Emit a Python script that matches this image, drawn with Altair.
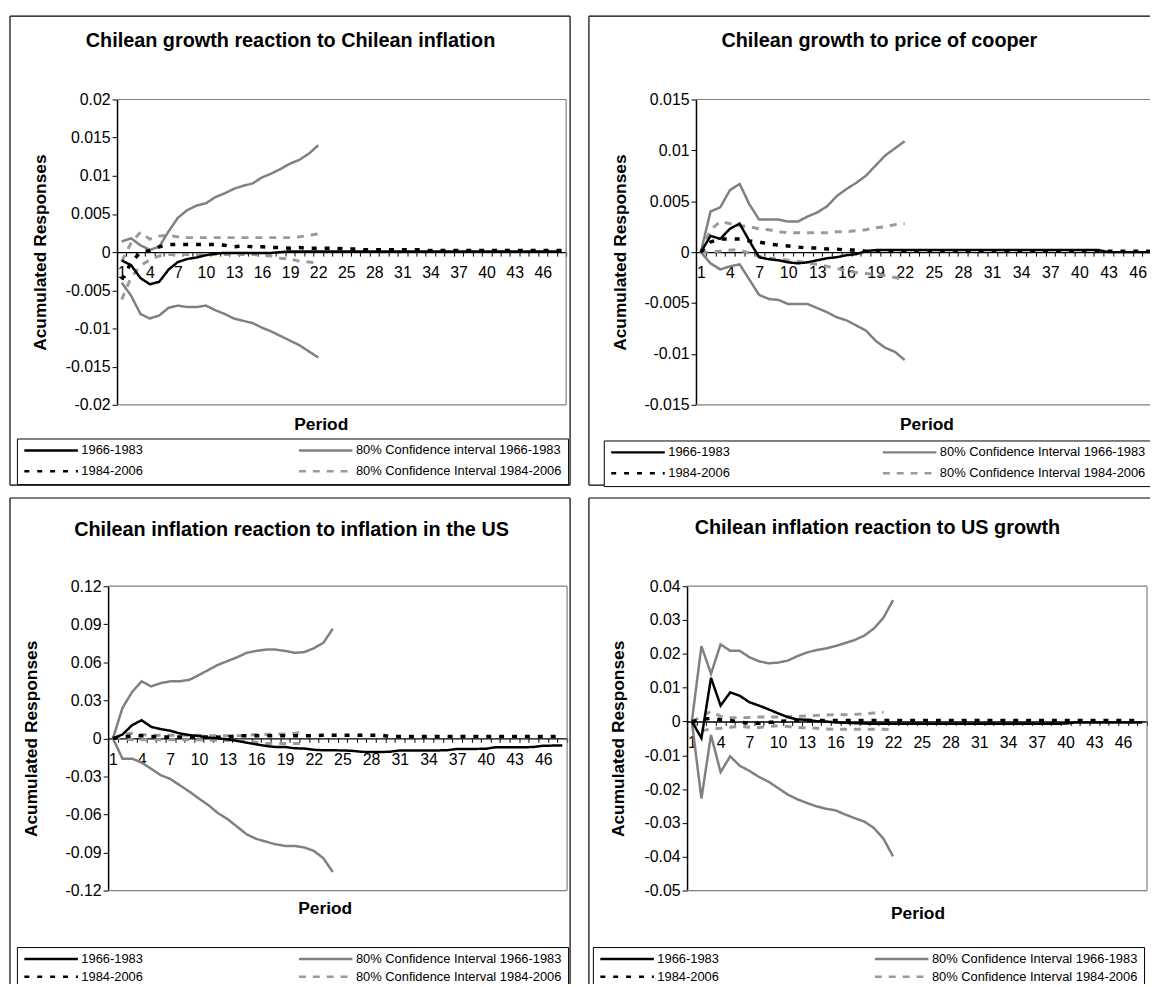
import altair as alt
import pandas as pd

FONT = "Liberation Sans"

S_A = "1966-1983"
S_C = "1984-2006"
S_B_P1 = "80% Confidence interval 1966-1983"
S_B = "80% Confidence Interval 1966-1983"
S_D = "80% Confidence Interval 1984-2006"

TITLES = [
    "Chilean growth reaction to Chilean inflation",
    "Chilean growth to price of cooper",
    "Chilean inflation reaction to inflation in the US",
    "Chilean inflation reaction to US growth",
]

# ---------------- Panel 1: Chilean growth reaction to Chilean inflation
A1 = [-0.0011, -0.0017, -0.0034, -0.0042, -0.0039, -0.0023, -0.0013, -0.0009, -0.0007, -0.0004, -0.0002, -0.0001,
      -0.0001, -0.0001, -0.0001, -0.0001, -0.0001, 0.0, 0.0001, 0.0001, 0.0001, 0.0001, 0.0001, 0.0001,
      0.0001, 0.0001, 0.0001, 0.0001, 0.0001, 0.0001, 0.0001, 0.0001, 0.0001, 0.0001, 0.0001, 0.0001,
      0.0001, 0.0001, 0.0001, 0.0001, 0.0001, 0.0001, 0.0001, 0.0001, 0.0001, 0.0001, 0.0001, 0.0001]
C1 = [-0.0036, -0.0014, 0.0, 0.0002, 0.0007, 0.001, 0.001, 0.001, 0.001, 0.001, 0.001, 0.0009,
      0.0007, 0.0008, 0.0007, 0.0007, 0.0006, 0.0006, 0.0005, 0.0006, 0.0005, 0.0005, 0.0005, 0.0005,
      0.0004, 0.0004, 0.0003, 0.0003, 0.0003, 0.0003, 0.0003, 0.0003, 0.0003, 0.0002, 0.0002, 0.0002,
      0.0002, 0.0002, 0.0002, 0.0002, 0.0002, 0.0002, 0.0002, 0.0002, 0.0002, 0.0002, 0.0002, 0.0002]
B1_UP = [0.0014, 0.0018, 0.0009, 0.0003, 0.0007, 0.0027, 0.0045, 0.0055, 0.0061, 0.0064, 0.0072, 0.0077,
         0.0083, 0.0087, 0.009, 0.0098, 0.0103, 0.0109, 0.0116, 0.0121, 0.0129, 0.014]
B1_LO = [-0.004, -0.0057, -0.0081, -0.0087, -0.0083, -0.0073, -0.007, -0.0072, -0.0072, -0.007, -0.0076, -0.0081,
         -0.0087, -0.009, -0.0093, -0.0099, -0.0104, -0.011, -0.0116, -0.0122, -0.013, -0.0138]
D1_UP = [-0.0012, 0.0012, 0.0026, 0.0017, 0.0021, 0.0022, 0.002, 0.0019, 0.0019, 0.0019, 0.0019, 0.0019,
         0.0019, 0.0019, 0.0019, 0.0019, 0.0019, 0.0019, 0.0019, 0.002, 0.0022, 0.0024]
D1_LO = [-0.0062, -0.0033, -0.0018, -0.001, -0.0005, -0.0003, -0.0003, -0.0003, -0.0003, -0.0003, -0.0003, -0.0003,
         -0.0003, -0.0003, -0.0003, -0.0004, -0.0005, -0.0008, -0.0009, -0.0012, -0.0013, -0.0014]

# ---------------- Panel 2: Chilean growth to price of cooper
A2 = [0.0, 0.0016, 0.0013, 0.0023, 0.0028, 0.0011, -0.0005, -0.0007, -0.0008, -0.001, -0.0011, -0.001,
      -0.0008, -0.0006, -0.0005, -0.0003, -0.0002, 0.0001, 0.0002, 0.0002, 0.0002, 0.0002, 0.0002, 0.0002,
      0.0002, 0.0002, 0.0002, 0.0002, 0.0002, 0.0002, 0.0002, 0.0002, 0.0002, 0.0002, 0.0002, 0.0002,
      0.0002, 0.0002, 0.0002, 0.0002, 0.0002, 0.0002, 0.0, 0.0, 0.0, 0.0, 0.0, 0.0]
C2 = [0.0, 0.001, 0.0013, 0.0013, 0.0013, 0.0011, 0.001, 0.0008, 0.0007, 0.0006, 0.0005, 0.0004,
      0.0004, 0.0003, 0.0003, 0.0002, 0.0002, 0.0001, 0.0001, 0.0001, 0.0001, 0.0001, 0.0001, 0.0001,
      0.0001, 0.0001, 0.0001, 0.0001, 0.0001, 0.0001, 0.0001, 0.0001, 0.0001, 0.0001, 0.0001, 0.0001,
      0.0001, 0.0001, 0.0001, 0.0001, 0.0001, 0.0001, 0.0001, 0.0001, 0.0001, 0.0001, 0.0001, 0.0001]
B2_UP = [0.0, 0.004, 0.0044, 0.0061, 0.0067, 0.0047, 0.0032, 0.0032, 0.0032, 0.003, 0.003, 0.0035,
         0.0039, 0.0045, 0.0055, 0.0062, 0.0068, 0.0075, 0.0085, 0.0095, 0.0102, 0.0109]
B2_LO = [0.0, -0.0011, -0.0017, -0.0014, -0.0012, -0.0027, -0.0042, -0.0046, -0.0047, -0.0051, -0.0051, -0.0051,
         -0.0055, -0.0059, -0.0064, -0.0067, -0.0072, -0.0077, -0.0087, -0.0094, -0.0098, -0.0106]
D2_UP = [0.0, 0.0022, 0.003, 0.0028, 0.0026, 0.0025, 0.0023, 0.0022, 0.002, 0.0019, 0.0019, 0.0019,
         0.0019, 0.0019, 0.002, 0.002, 0.0021, 0.0022, 0.0024, 0.0025, 0.0027, 0.0028]
D2_LO = [0.0, 0.0, 0.0001, 0.0002, 0.0002, -0.0001, -0.0004, -0.0006, -0.0007, -0.0008, -0.0009, -0.0011,
         -0.0012, -0.0014, -0.0016, -0.0018, -0.002, -0.0021, -0.0022, -0.0023, -0.0025, -0.0027]

# ---------------- Panel 3: Chilean inflation reaction to inflation in the US
A3 = [0.0, 0.003, 0.0104, 0.0143, 0.0091, 0.0073, 0.006, 0.0039, 0.0026, 0.0018, 0.0005, 0.0,
      -0.0008, -0.002, -0.0034, -0.0047, -0.006, -0.0068, -0.0068, -0.0078, -0.008, -0.009, -0.0094, -0.0094,
      -0.0095, -0.0098, -0.0106, -0.0108, -0.0108, -0.0105, -0.0095, -0.0095, -0.0095, -0.0095, -0.0095, -0.0093,
      -0.0083, -0.0083, -0.0083, -0.0082, -0.007, -0.007, -0.007, -0.007, -0.0068, -0.0058, -0.0057, -0.0057]
C3 = [0.0, 0.001, 0.002, 0.002, 0.0015, 0.001, 0.001, 0.001, 0.001, 0.001, 0.001, 0.001,
      0.0012, 0.002, 0.002, 0.002, 0.002, 0.002, 0.002, 0.002, 0.002, 0.002, 0.0025, 0.0025,
      0.0025, 0.0025, 0.0025, 0.0025, 0.0025, 0.0015, 0.0015, 0.0015, 0.0015, 0.0015, 0.0015, 0.0015,
      0.0015, 0.0015, 0.0015, 0.0015, 0.0015, 0.0015, 0.0015, 0.0015, 0.0015, 0.0015, 0.0015, 0.0015]
B3_UP = [0.0, 0.024, 0.0365, 0.045, 0.041, 0.0436, 0.045, 0.045, 0.0462, 0.05, 0.054, 0.058,
         0.061, 0.064, 0.0675, 0.069, 0.07, 0.07, 0.069, 0.0675, 0.068, 0.071, 0.0753, 0.0865]
B3_LO = [0.0, -0.016, -0.016, -0.019, -0.024, -0.029, -0.032, -0.037, -0.042, -0.0475, -0.0527, -0.059,
         -0.0637, -0.0697, -0.0757, -0.0793, -0.0814, -0.0835, -0.0848, -0.0848, -0.086, -0.0887, -0.0944, -0.1054]
D3_UP = [0.0, 0.003, 0.004, 0.003, 0.0025, 0.0025, 0.0025, 0.0025, 0.0025, 0.0025, 0.002, 0.002,
         0.002, 0.002, 0.0025, 0.003, 0.003, 0.0035, 0.0035, 0.004, 0.005]
D3_LO = [0.0, -0.0005, -0.001, -0.001, -0.001, -0.001, -0.001, -0.001, -0.001, -0.001, -0.0015, -0.0015,
         -0.0015, -0.0015, -0.002, -0.003, -0.004, -0.004, -0.004, -0.004, -0.004]

# ---------------- Panel 4: Chilean inflation reaction to US growth
A4 = [0.0, -0.0049, 0.0129, 0.0047, 0.0086, 0.0076, 0.0057, 0.0047, 0.0036, 0.0024, 0.0013, 0.0006,
      0.0005, 0.0001, 0.0, -0.0003, -0.0004, -0.0005, -0.0006, -0.0007, -0.0007, -0.0007, -0.0007, -0.0007,
      -0.0007, -0.0007, -0.0007, -0.0007, -0.0007, -0.0007, -0.0007, -0.0007, -0.0007, -0.0007, -0.0007, -0.0007,
      -0.0007, -0.0007, -0.0007, -0.0006, -0.0003, -0.0003, -0.0003, -0.0003, -0.0003, -0.0003, -0.0003, -0.0003]
C4 = [0.0, 0.0005, 0.001, 0.0005, 0.0003, -0.0002, -0.0005, -0.0005, -0.0003, 0.0, 0.0002, 0.0003,
      0.0003, 0.0003, 0.0003, 0.0003, 0.0003, 0.0003, 0.0003, 0.0003, 0.0003, 0.0003, 0.0003, 0.0003,
      0.0003, 0.0003, 0.0003, 0.0003, 0.0003, 0.0003, 0.0003, 0.0003, 0.0003, 0.0003, 0.0003, 0.0003,
      0.0003, 0.0003, 0.0003, 0.0003, 0.0003, 0.0003, 0.0003, 0.0003, 0.0003, 0.0003, 0.0003, 0.0003]
B4_UP = [0.0, 0.0223, 0.0141, 0.0228, 0.0209, 0.0209, 0.019, 0.0178, 0.0172, 0.0174, 0.018, 0.0193,
         0.0204, 0.0211, 0.0216, 0.0223, 0.0232, 0.0241, 0.0254, 0.0275, 0.0307, 0.0359]
B4_LO = [0.0, -0.0228, -0.004, -0.015, -0.0103, -0.0131, -0.0146, -0.0164, -0.0178, -0.0197, -0.0216, -0.023,
         -0.0241, -0.0251, -0.0258, -0.0263, -0.0275, -0.0286, -0.0296, -0.0315, -0.0347, -0.0399]
D4_UP = [0.0, 0.0015, 0.003, 0.0015, 0.0012, 0.0011, 0.0012, 0.0013, 0.0013, 0.0013, 0.0014, 0.0015,
         0.0016, 0.0018, 0.0019, 0.002, 0.002, 0.0021, 0.0023, 0.0025, 0.0027]
D4_LO = [0.0, -0.0028, -0.0022, -0.002, -0.0017, -0.0015, -0.0017, -0.0018, -0.0015, -0.0013, -0.0015, -0.0018,
         -0.0019, -0.002, -0.0022, -0.0023, -0.0023, -0.0023, -0.0023, -0.0023, -0.0023, -0.0025]

Y_TICKS = [
    [-0.02, -0.015, -0.01, -0.005, 0, 0.005, 0.01, 0.015, 0.02],
    [-0.015, -0.01, -0.005, 0, 0.005, 0.01, 0.015],
    [-0.12, -0.09, -0.06, -0.03, 0, 0.03, 0.06, 0.09, 0.12],
    [-0.05, -0.04, -0.03, -0.02, -0.01, 0, 0.01, 0.02, 0.03, 0.04],
]

# layout / style parameters for each panel (pixels relative to the plot area;
# dx shifts the drawn plot area inside its cell)
GEOM = [
    dict(W=453, H=308, dx=0, ydom=(-0.02, 0.02), box=(-108, 457, -84, 389),
         tpos=(175, -59), ppos=(206, 328), ytx=-77, leg=(-101, 342), rowpad=8, colpad=155),
    dict(W=470, H=308, dx=0, ydom=(-0.015, 0.015), box=(-108, 478, -84, 389),
         tpos=(185, -59), ppos=(233, 328), ytx=-76, leg=(-93, 344), rowpad=8, colpad=152),
    dict(W=463, H=307, dx=-9, ydom=(-0.12, 0.12), box=(-99, 466, -89, 420),
         tpos=(185, -57), ppos=(219, 326), ytx=-68, leg=(-92, 364), rowpad=5, colpad=155),
    dict(W=464, H=307, dx=0, ydom=(-0.05, 0.04), box=(-99, 474, -89, 420),
         tpos=(192, -59), ppos=(233, 331), ytx=-69, leg=(-95, 364), rowpad=5, colpad=155),
]


def build_df(A, Bu, Bl, C, Du, Dl, sB):
    rows = []
    for name, vals, s in [("Du", Du, S_D), ("Dl", Dl, S_D), ("Bu", Bu, sB), ("Bl", Bl, sB),
                          ("C", C, S_C), ("A", A, S_A)]:
        for i, v in enumerate(vals):
            rows.append({"period": i + 1, "value": v, "series": s, "line": name})
    return pd.DataFrame(rows)


ONE = alt.Data(values=[{"k": 1}])


def make_panel(title, df, sB, yticks, g):
    W, H, dx = g["W"], g["H"], g["dx"]
    ymin, ymax = g["ydom"]
    zero_from_top = H * ymax / (ymax - ymin)
    domain = [S_A, sB, S_C, S_D]

    leg = alt.Legend(
        title=None, orient="none", legendX=g["leg"][0] + dx, legendY=g["leg"][1],
        direction="horizontal", columns=2, columnPadding=g["colpad"], rowPadding=g["rowpad"],
        symbolType="stroke", symbolSize=2916, symbolStrokeWidth=2.5, clipHeight=12,
        labelFont=FONT, labelFontSize=13, labelColor="black", labelLimit=0,
        labelOffset=2, strokeColor="black", fillColor="white", padding=6, symbolOffset=0,
    )
    x = alt.X(
        "period:O",
        bandPosition=0.5,
        scale=alt.Scale(type="band", domain=list(range(1, 49)), range=[dx, dx + W],
                        paddingInner=0, paddingOuter=0),
        axis=alt.Axis(
            labelExpr="datum.value % 3 == 1 ? datum.label : ''",
            tickBand="extent", offset=-(H - zero_from_top), title=None, grid=False,
            domainColor="black", domainWidth=1.5, tickColor="black", tickSize=4,
            labelPadding=9, labelFont=FONT, labelFontSize=16, labelColor="black",
            labelOverlap=False, labelAngle=0,
        ),
    )
    y = alt.Y(
        "value:Q",
        scale=alt.Scale(domain=[ymin, ymax], nice=False, zero=False),
        axis=alt.Axis(
            values=yticks, offset=-dx,
            labelExpr="replace(format(datum.value, '.3~f'), '\u2212', '-')",
            title="Acumulated Responses", titleX=g["ytx"] + dx, titleY=H / 2, titleAngle=270,
            titleAlign="center", titleBaseline="middle", titleFont=FONT, titleFontSize=17.5,
            titleFontWeight="bold", titleColor="black",
            grid=False, domainColor="black", domainWidth=1.5, tickColor="black", tickSize=5,
            labelPadding=2, labelFont=FONT, labelFontSize=16, labelColor="black", labelFlush=False,
        ),
    )
    color = alt.Color("series:N", scale=alt.Scale(domain=domain, range=["#000000", "#808080", "#000000", "#9a9a9a"]),
                      legend=leg)
    dash = alt.StrokeDash("series:N", scale=alt.Scale(domain=domain, range=[[1, 0], [1, 0], [5, 8], [7, 7]]),
                          legend=leg)

    base = alt.Chart(df).encode(x=x, y=y, color=color, strokeDash=dash, detail="line:N")
    lines = [
        base.transform_filter(alt.datum.series == S_D).mark_line(strokeWidth=3),
        base.transform_filter(alt.datum.series == sB).mark_line(strokeWidth=2.5),
        base.transform_filter(alt.datum.series == S_C).mark_line(strokeWidth=3.5),
        base.transform_filter(alt.datum.series == S_A).mark_line(strokeWidth=2.5),
    ]

    # grey frame of the plot area
    grey = alt.Chart(ONE).mark_rule(color="#808080", strokeWidth=1.2)
    frame = [
        grey.encode(x=alt.value(dx), x2=alt.value(dx + W), y=alt.value(0)),
        grey.encode(x=alt.value(dx), x2=alt.value(dx + W), y=alt.value(H)),
        grey.encode(x=alt.value(dx + W), y=alt.value(0), y2=alt.value(H)),
    ]

    # black outer border of the whole panel
    x0, x1, y0, y1 = g["box"]
    x0, x1 = x0 + dx, x1 + dx
    rule = alt.Chart(ONE).mark_rule(color="black", strokeWidth=1.2)
    borders = [
        rule.encode(x=alt.value(x0), x2=alt.value(x1), y=alt.value(y0)),
        rule.encode(x=alt.value(x0), x2=alt.value(x1), y=alt.value(y1)),
        rule.encode(x=alt.value(x0), y=alt.value(y0), y2=alt.value(y1)),
        rule.encode(x=alt.value(x1), y=alt.value(y0), y2=alt.value(y1)),
    ]

    ttl = alt.Chart(alt.Data(values=[{"t": title}])).mark_text(
        font=FONT, fontSize=20, fontWeight="bold", align="center", baseline="middle", color="black"
    ).encode(x=alt.value(g["tpos"][0] + dx), y=alt.value(g["tpos"][1]), text="t:N")
    per = alt.Chart(alt.Data(values=[{"t": "Period"}])).mark_text(
        font=FONT, fontSize=17.5, fontWeight="bold", align="center", baseline="middle", color="black"
    ).encode(x=alt.value(g["ppos"][0] + dx), y=alt.value(g["ppos"][1]), text="t:N")

    return alt.layer(*borders, *frame, *lines, ttl, per).properties(width=W, height=H)


p1 = make_panel(TITLES[0], build_df(A1, B1_UP, B1_LO, C1, D1_UP, D1_LO, S_B_P1), S_B_P1, Y_TICKS[0], GEOM[0])
p2 = make_panel(TITLES[1], build_df(A2, B2_UP, B2_LO, C2, D2_UP, D2_LO, S_B), S_B, Y_TICKS[1], GEOM[1])
p3 = make_panel(TITLES[2], build_df(A3, B3_UP, B3_LO, C3, D3_UP, D3_LO, S_B), S_B, Y_TICKS[2], GEOM[2])
p4 = make_panel(TITLES[3], build_df(A4, B4_UP, B4_LO, C4, D4_UP, D4_LO, S_B), S_B, Y_TICKS[3], GEOM[3])

IND = dict(color="independent", strokeDash="independent", x="independent", y="independent")
chart = (
    alt.ConcatChart(concat=[p1, p2, p3, p4], columns=2, align="none",
                    spacing={"row": 9, "column": 10})
    .resolve_scale(**IND)
    # negative right/bottom padding crops the figure like the reference screenshot
    .properties(padding={"left": 0, "top": 2, "right": -22, "bottom": -25}, background="white")
    .configure_view(stroke="transparent")
)

chart.save("out.html", embed_options={"renderer": "svg", "actions": False})
